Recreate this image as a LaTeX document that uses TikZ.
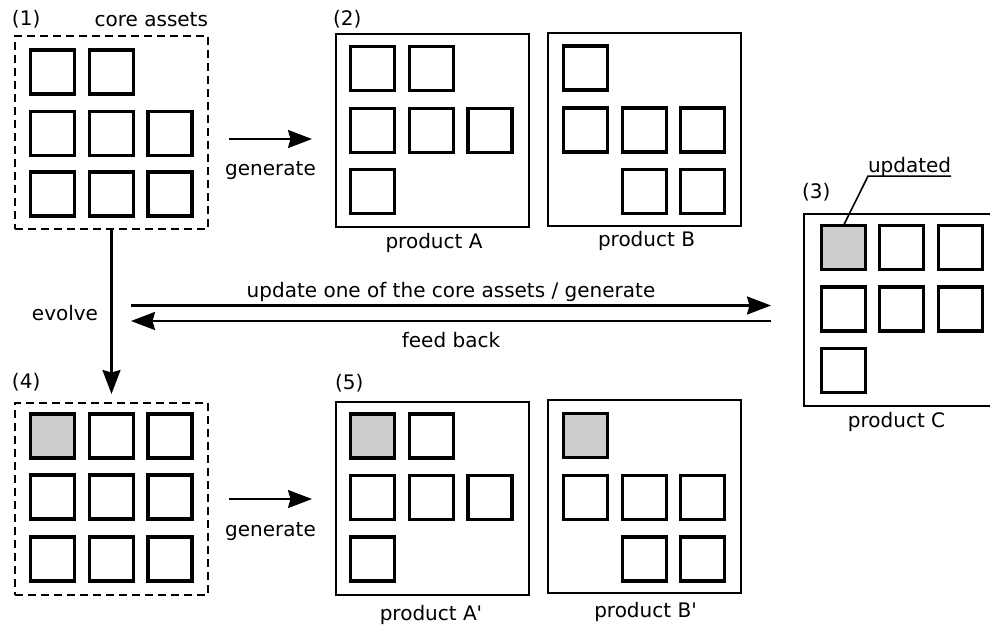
\documentclass[tikz,border=0pt]{standalone}
\usepackage{fontspec}
\setmainfont{DejaVu Sans}
\usetikzlibrary{arrows.meta}
\tikzset{
  sq/.style={draw, line width=3.1pt, minimum size=44pt, inner sep=0pt, outer sep=0pt, fill=white},
  gsq/.style={sq, fill=gray!40},
  prod/.style={draw, line width=2.4pt, inner sep=0pt, outer sep=0pt},
  core/.style={prod, dash pattern=on 8pt off 5pt, line width=2.6pt},
  txt/.style={inner sep=0pt, outer sep=0pt, font=\fontsize{20pt}{24pt}\selectfont},
  conn/.style={line width=2.2pt, -{Stealth[length=24pt, width=18pt, inset=2.5pt]}},
}
\begin{document}
\begin{tikzpicture}[x=1pt, y=-1pt]
\useasboundingbox (0,0) rectangle (990,629);
% containers
\node[core, minimum width=193pt, minimum height=193pt] (core1) at (111.5,132.5) {};
\node[prod, minimum width=193pt, minimum height=193pt] (prodA) at (432.5,130.5) {};
\node[prod, minimum width=193pt, minimum height=193pt] (prodB) at (644.5,129.5) {};
\node[prod, minimum width=200pt, minimum height=192pt] (prodC) at (904,310) {};
\node[core, minimum width=193pt, minimum height=192pt] (core4) at (111.5,499) {};
\node[prod, minimum width=193pt, minimum height=193pt] (prodA2) at (432.5,498.5) {};
\node[prod, minimum width=193pt, minimum height=193pt] (prodB2) at (644.5,496.5) {};
% (1) core assets
\node[sq] (a11) at (52.5,72) {};
\node[sq] (a12) at (111.5,72) {};
\node[sq] (a21) at (52.5,133.5) {};
\node[sq] (a22) at (111.5,133.5) {};
\node[sq] (a23) at (170,133.5) {};
\node[sq] (a31) at (52.5,194) {};
\node[sq] (a32) at (111.5,194) {};
\node[sq] (a33) at (170,194) {};
% (2) product A
\node[sq] (b11) at (372.5,68.5) {};
\node[sq] (b12) at (431.5,68.5) {};
\node[sq] (b21) at (372.5,130.5) {};
\node[sq] (b22) at (431.5,130.5) {};
\node[sq] (b23) at (490,130.5) {};
\node[sq] (b31) at (372.5,191.5) {};
% product B
\node[sq] (c11) at (585.5,68) {};
\node[sq] (c21) at (585.5,130) {};
\node[sq] (c22) at (644.5,130) {};
\node[sq] (c23) at (702.5,130) {};
\node[sq] (c32) at (644.5,191.5) {};
\node[sq] (c33) at (702.5,191.5) {};
% (3) product C
\node[gsq] (d11) at (843.5,247.5) {};
\node[sq] (d12) at (901.5,247.5) {};
\node[sq] (d13) at (960.5,247.5) {};
\node[sq] (d21) at (843.5,309) {};
\node[sq] (d22) at (901.5,309) {};
\node[sq] (d23) at (960.5,309) {};
\node[sq] (d31) at (843.5,370.5) {};
% (4) evolved core assets
\node[gsq] (e11) at (52.5,436) {};
\node[sq] (e12) at (111.5,436) {};
\node[sq] (e13) at (170,436) {};
\node[sq] (e21) at (52.5,497) {};
\node[sq] (e22) at (111.5,497) {};
\node[sq] (e23) at (170,497) {};
\node[sq] (e31) at (52.5,559) {};
\node[sq] (e32) at (111.5,559) {};
\node[sq] (e33) at (170,559) {};
% (5) product A'
\node[gsq] (f11) at (372.5,436) {};
\node[sq] (f12) at (431.5,436) {};
\node[sq] (f21) at (372.5,497.5) {};
\node[sq] (f22) at (431.5,497.5) {};
\node[sq] (f23) at (490,497.5) {};
\node[sq] (f31) at (372.5,559) {};
% product B'
\node[gsq] (g11) at (585.5,435.5) {};
\node[sq] (g21) at (585.5,497.5) {};
\node[sq] (g22) at (644.5,497.5) {};
\node[sq] (g23) at (702.5,497.5) {};
\node[sq] (g32) at (644.5,559) {};
\node[sq] (g33) at (702.5,559) {};
% texts
\node[txt, anchor=base west] (l1) at (12,25) {(1)};
\node[txt, anchor=base east] (lcore) at (208,27) {core assets};
\node[txt, anchor=base] (lgen1) at (270.5,175) {generate};
\node[txt, anchor=base west] (l2) at (333,25) {(2)};
\node[txt, anchor=base] (lpa) at (434,248) {product A};
\node[txt, anchor=base] (lpb) at (646.5,246) {product B};
\node[txt, anchor=base west] (l3) at (802,198) {(3)};
\node[txt, anchor=base west] (lupd) at (868,172) {updated};
\node[txt, anchor=base] (lpc) at (896.5,427) {product C};
\node[txt, anchor=base] (lupdate) at (451,297) {update one of the core assets / generate};
\node[txt, anchor=base] (lfeed) at (451,347) {feed back};
\node[txt, anchor=base] (levolve) at (65,320) {evolve};
\node[txt, anchor=base west] (l4) at (12,388) {(4)};
\node[txt, anchor=base] (lgen2) at (270.5,536) {generate};
\node[txt, anchor=base west] (l5) at (335,389) {(5)};
\node[txt, anchor=base] (lpa2) at (431,620) {product A\textquotesingle};
\node[txt, anchor=base] (lpb2) at (645.5,617) {product B\textquotesingle};
% connector end points
\coordinate (g1s) at (229,139);
\coordinate (g1e) at (312,139);
\coordinate (g2s) at (229,499);
\coordinate (g2e) at (312,499);
\coordinate (ups) at (131,305.5);
\coordinate (upe) at (771,305.5);
\coordinate (fbs) at (771,321);
\coordinate (fbe) at (131,321);
% connectors
\draw[conn] (g1s) -- (g1e);
\draw[conn] (g2s) -- (g2e);
\draw[conn] (ups) -- (upe);
\draw[conn] (fbs) -- (fbe);
\draw[conn, shorten >=9pt] (core1.south) -- (core4.north);
\draw[line width=1.6pt] (d11.north) -- (lupd.south west) -- (lupd.south east);
\end{tikzpicture}
\end{document}
